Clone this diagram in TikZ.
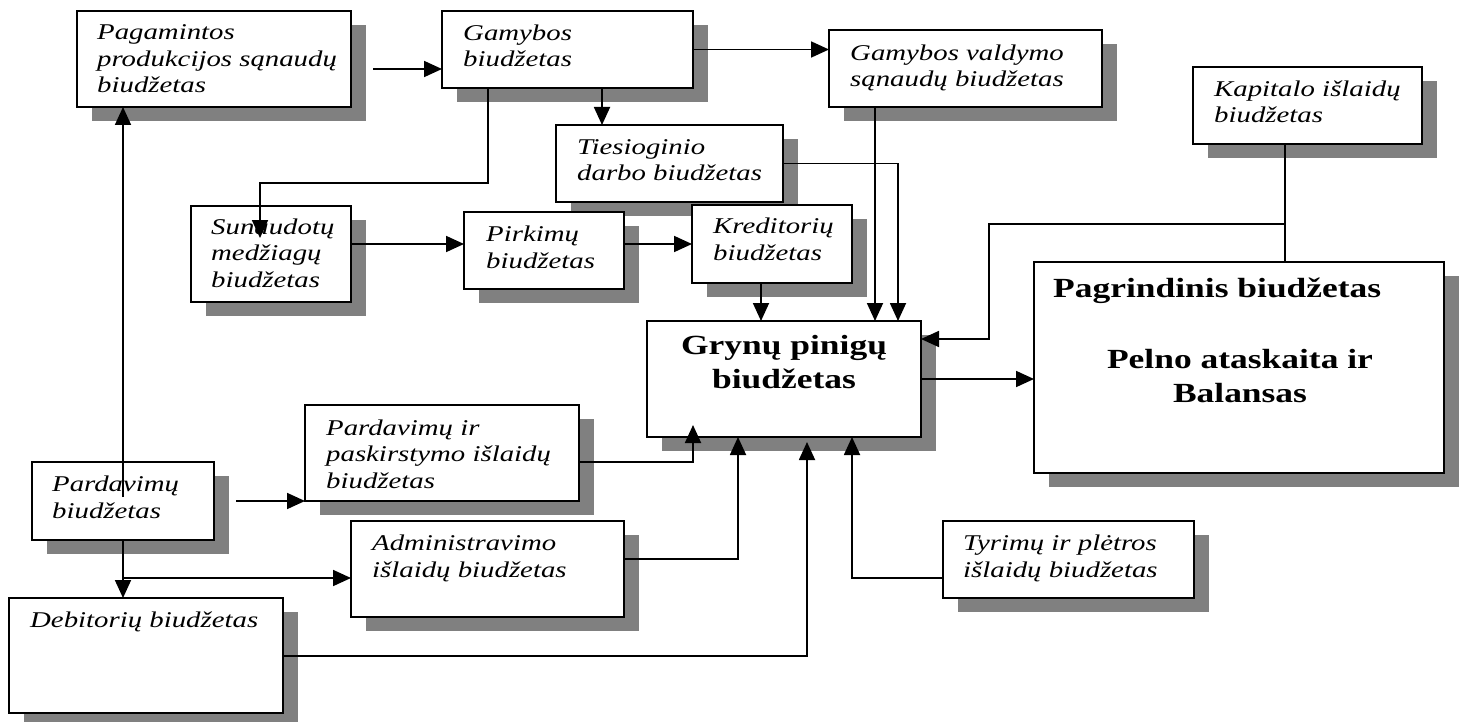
\documentclass[tikz,border=0pt]{standalone}
\usepackage{fontspec}
\setmainfont{Liberation Serif}
\newfontfamily\itf{Liberation Serif Italic}[FakeStretch=1.28]
\newfontfamily\bdf{Liberation Serif Bold}[FakeStretch=1.28]
\usetikzlibrary{arrows.meta,calc,shadows}
\definecolor{shadowgray}{RGB}{128,128,128}
\begin{document}
\begin{tikzpicture}[x=1pt,y=-1pt,
  box/.style={draw, line width=2.1pt, fill=white, inner sep=0pt, outer sep=0pt, anchor=north west,
    general shadow={fill=shadowgray, shadow xshift=15pt, shadow yshift=-14pt}},
  txt/.style={anchor=base west, inner sep=0pt, align=left, font=\itf\fontsize{22.5}{26.5}\selectfont},
  btxt/.style={inner sep=0pt, align=center, anchor=base, font=\bdf\fontsize{27.7}{33.5}\selectfont},
  line/.style={line width=1.8pt},
  arr/.style={line width=1.8pt, -{Triangle[length=18pt,width=16pt]}},
]
\useasboundingbox (0,0) rectangle (1463,722);
\fill[white] (0,0) rectangle (1463,722);

% boxes
\node[box, minimum width=274, minimum height=96] (pag) at (77,11) {};
\node[box, minimum width=251, minimum height=77] (gam) at (442,11) {};
\node[box, minimum width=273, minimum height=77] (gval) at (829,30) {};
\node[box, minimum width=229, minimum height=77] (kap) at (1193,67) {};
\node[box, minimum width=227, minimum height=77] (ties) at (556,125) {};
\node[box, minimum width=160, minimum height=96] (sun) at (191,206) {};
\node[box, minimum width=160, minimum height=77] (pirk) at (464,212) {};
\node[box, minimum width=160, minimum height=78] (kred) at (692,205) {};
\node[box, minimum width=274, minimum height=116] (gryn) at (647,321) {};
\node[box, minimum width=410, minimum height=211] (pagr) at (1034,262) {};
\node[box, minimum width=274, minimum height=96] (pardir) at (305,405) {};
\node[box, minimum width=182, minimum height=78] (pard) at (32,462) {};
\node[box, minimum width=273, minimum height=96] (adm) at (351,521) {};
\node[box, minimum width=251, minimum height=77] (tyr) at (943,521) {};
\node[box, minimum width=274, minimum height=115] (deb) at (9,598) {};

% texts (anchored at the baseline of the last line)
\node[txt] (pag-t) at (97,93) {Pagamintos\\produkcijos sąnaudų\\biudžetas};
\node[txt] (gam-t) at (463,67) {Gamybos\\biudžetas};
\node[txt] (gval-t) at (850,87) {Gamybos valdymo\\sąnaudų biudžetas};
\node[txt] (kap-t) at (1214,123) {Kapitalo išlaidų\\biudžetas};
\node[txt] (ties-t) at (577,181) {Tiesioginio\\darbo biudžetas};
\node[txt] (sun-t) at (211,287) {Sunaudotų\\medžiagų\\biudžetas};
\node[txt] (pirk-t) at (486,268) {Pirkimų\\biudžetas};
\node[txt] (kred-t) at (713,260) {Kreditorių\\biudžetas};
\node[btxt] (gryn-t) at (784,388) {Grynų pinigų\\biudžetas};
\node[btxt, anchor=base west] (pagr-t1) at (1053,297) {Pagrindinis biudžetas};
\node[btxt] (pagr-t2) at (1240,402) {Pelno ataskaita ir\\Balansas};
\node[txt] (pardir-t) at (326,488) {Pardavimų ir\\paskirstymo išlaidų\\biudžetas};
\node[txt] (pard-t) at (52,518) {Pardavimų\\biudžetas};
\node[txt] (adm-t) at (372,577) {Administravimo\\išlaidų biudžetas};
\node[txt] (tyr-t) at (963,577) {Tyrimų ir plėtros\\išlaidų biudžetas};
\node[txt] (deb-t) at (30,627) {Debitorių biudžetas};

% connectors
\draw[arr] ($(pag.east)+(22,10)$) coordinate (p1) -- (p1 -| gam.west);
\draw[arr] (gam.east) -- (gam.east -| gval.west);
\draw[arr] ($(gam.south west)+(160,0)$) coordinate (g1) -- (g1 |- ties.north);
\draw[arr] ($(gam.south west)+(46,0)$) |- ($(sun.north west)+(69,-23)$) -- ($(sun.north west)+(69,32)$);
\draw[arr] ($(sun.north east)+(0,38)$) coordinate (s1) -- (s1 -| pirk.west);
\draw[arr] ($(pirk.north east)+(0,32)$) coordinate (r1) -- (r1 -| kred.west);
\draw[arr] ($(kred.south west)+(69,0)$) coordinate (c1) -- (c1 |- gryn.north);
\draw[arr] ($(gval.south west)+(46,0)$) coordinate (v1) -- (v1 |- gryn.north);
\draw[arr] (ties.east) -| ($(gryn.north west)+(251,0)$);
\draw[line] ($(kap.south west)+(92,0)$) coordinate (k1) -- (k1 |- pagr.north);
\draw[arr] ($(k1)+(0,80)$) -| ($(gryn.north east)+(68,18)$) -- ($(gryn.north east)+(0,18)$);
\draw[arr] (gryn.east) -- (gryn.east -| pagr.west);
\draw[arr] ($(pard.north west)+(91,35)$) coordinate (d1) -- (d1 |- pag.south);
\draw[arr] ($(pard.south west)+(91,0)$) coordinate (d2) -- (d2 |- deb.north);
\draw[arr] ($(pard.south west)+(91,38)$) coordinate (d3) -- (d3 -| adm.west);
\draw[arr] ($(pard.east)+(22,0)$) -- (pardir.south west);
\draw[arr] ($(pardir.south east)+(0,-39)$) -| ($(gryn.south west)+(46,-12)$);
\draw[arr] ($(adm.north east)+(0,38)$) -| ($(gryn.south west)+(91,0)$);
\draw[arr] ($(deb.north east)+(0,58)$) -| ($(gryn.south west)+(160,5)$);
\draw[arr] ($(tyr.north west)+(0,57)$) -| ($(gryn.south west)+(205,0)$);
\end{tikzpicture}
\end{document}
